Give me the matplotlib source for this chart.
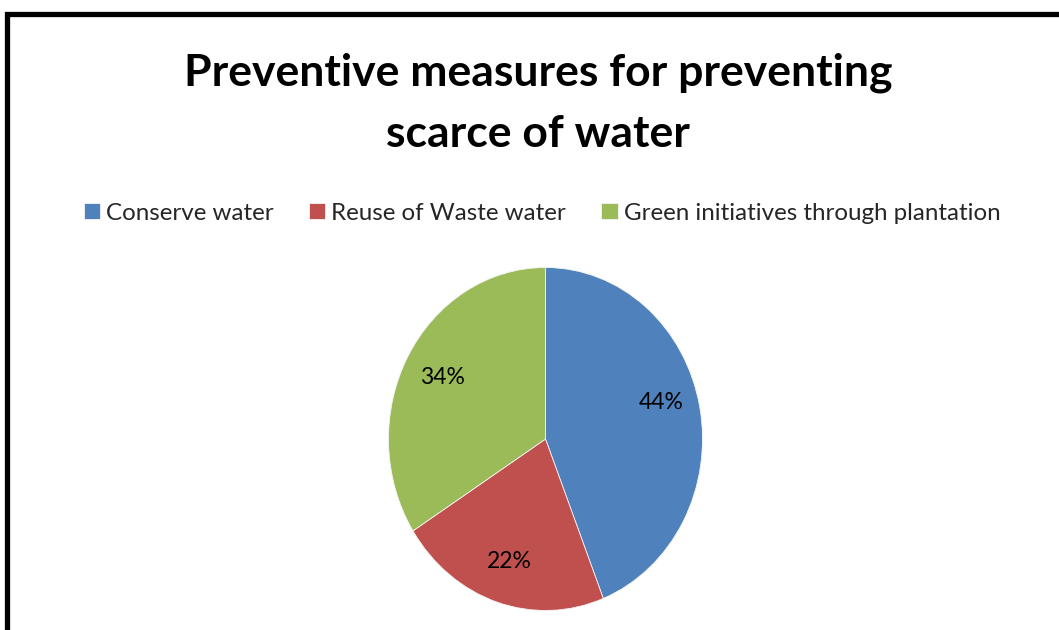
import matplotlib
matplotlib.use("Agg")
import matplotlib.pyplot as plt
from matplotlib.patches import Rectangle

# Data
categories = ["Conserve water", "Reuse of Waste water", "Green initiatives through plantation"]
shares = [44, 22, 34]
colors = ["#4F81BD", "#C0504D", "#9BBB59"]
title_lines = ["Preventive measures for preventing", "scarce of water"]

W, H = 1059, 630
fig = plt.figure(figsize=(W / 100, H / 100), dpi=100)
fig.patch.set_facecolor("white")

# Outer frame (runs off the right and bottom edges)
frame = Rectangle((7 / W, -0.1), 1.2, 1 - 13.5 / H + 0.1, transform=fig.transFigure,
                  fill=False, edgecolor="black", linewidth=3.8, clip_on=False)
fig.add_artist(frame)

# Title
for text, ypix in zip(title_lines, [73, 134]):
    fig.text(538 / W, 1 - ypix / H, text,
             ha="center", va="center", fontsize=32, fontweight="bold",
             family="Lato", color="black")

# Pie (slightly taller than wide)
cx, cy, rx, ry = 545.5, 439, 157, 171.5
ax = fig.add_axes([(cx - rx) / W, 1 - (cy + ry) / H, 2 * rx / W, 2 * ry / H])
wedges, texts, autotexts = ax.pie(
    shares, colors=colors, startangle=90, counterclock=False,
    autopct=lambda p: f"{p:.0f}%", pctdistance=0.75,
    wedgeprops=dict(edgecolor="#f4f4f4", linewidth=0.6),
    textprops=dict(fontsize=16.5, family="Lato", color="black"))
ax.set_aspect("auto")
ax.set_xlim(-1, 1)
ax.set_ylim(-1, 1)
x0, y0 = autotexts[0].get_position()
autotexts[0].set_position((x0, y0 + 0.07))

# Legend
leg = fig.legend(wedges, categories, loc="center", bbox_to_anchor=(542 / W, 1 - 213 / H),
                 ncol=3, frameon=False, handlelength=0.68, handleheight=0.68,
                 handletextpad=0.25, columnspacing=1.45,
                 prop=dict(family="Lato", size=17.4))
for t in leg.get_texts():
    t.set_color("#262626")

fig.savefig("out.png", dpi=100, facecolor="white")
